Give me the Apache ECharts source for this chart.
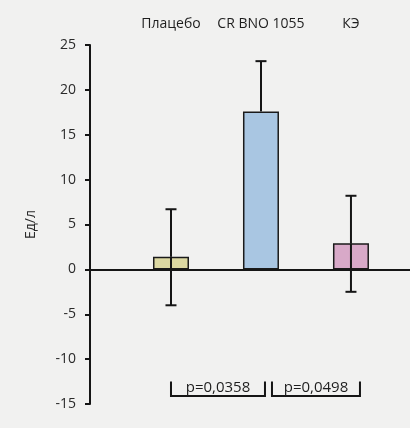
<!DOCTYPE html>
<html><head><meta charset="utf-8">
<script src="https://cdn.jsdelivr.net/npm/echarts@6/dist/echarts.min.js"></script>
<style>html,body{margin:0;padding:0;background:#f1f1f0}#c{width:410px;height:428px}</style>
</head><body><div id="c"></div>
<script>
var categories = ['Плацебо', 'CR BNO 1055', 'КЭ'];
var means = [1.4, 17.6, 2.9];
var errUp = [5.3, 5.6, 5.3];
var errDown = [5.4, 0, 5.4];
var barColors = ['#dcd8a2', '#a9c6e2', '#d8a9c8'];
var yTicks = [-15, -10, -5, 0, 5, 10, 15, 20, 25];
var yName = 'Ед/л';
var comparisons = [[0, 1, 'p=0,0358'], [1, 2, 'p=0,0498']];

var font = '"Open Sans", "Noto Sans", sans-serif';
var chart = echarts.init(document.getElementById('c'));
var bracketOffsets = [[0, 4], [11, 9]];

chart.setOption({
  backgroundColor: '#f1f1f0',
  animation: false,
  grid: {left: 90, right: 0, top: 45, bottom: 24},
  xAxis: [{
    type: 'value', min: -0.9, max: 2.656,
    axisLine: {onZero: true, lineStyle: {color: '#151515', width: 2}},
    axisTick: {show: false}, axisLabel: {show: false}, splitLine: {show: false}
  }, {
    type: 'value', min: -0.9, max: 2.656, position: 'top',
    axisLine: {show: false, onZero: false}, axisTick: {show: false}, splitLine: {show: false},
    axisLabel: {customValues: categories.map(function (c, i) { return i; }),
      formatter: function (v) { return categories[Math.round(v)]; },
      margin: 14, fontFamily: font, fontSize: 14, color: '#1e1e1e'}
  }],
  yAxis: {
    type: 'value', min: yTicks[0], max: yTicks[yTicks.length - 1], interval: 5,
    name: yName, nameLocation: 'middle', nameGap: 52,
    nameTextStyle: {fontFamily: font, fontSize: 14, color: '#2a2a2a'},
    axisLine: {show: true, onZero: false, lineStyle: {color: '#151515', width: 2}},
    axisTick: {show: true, length: 5, lineStyle: {color: '#151515', width: 2}},
    axisLabel: {margin: 14, fontFamily: font, fontSize: 14, color: '#2a2a2a'},
    splitLine: {show: false}
  },
  series: [{
    type: 'bar', barWidth: 36, z: 2,
    data: means.map(function (v, i) {
      return {value: [i, v], itemStyle: {color: barColors[i], borderColor: '#1a1a1a', borderWidth: 1.5}};
    })
  }, {
    type: 'custom', z: 5,
    data: means.map(function (v, i) { return [i, v + errUp[i], v - errDown[i], v]; }),
    renderItem: function (params, api) {
      var i = api.value(0);
      var top = api.coord([i, api.value(1)]);
      var bot = api.coord([i, api.value(2)]);
      var mid = api.coord([i, api.value(3)]);
      var cap = 5.5;
      var st = {stroke: '#151515', lineWidth: 2};
      var ch = [
        {type: 'line', shape: {x1: top[0], y1: top[1], x2: mid[0], y2: mid[1]}, style: st},
        {type: 'line', shape: {x1: top[0] - cap, y1: top[1], x2: top[0] + cap, y2: top[1]}, style: st}
      ];
      if (api.value(2) < api.value(3)) {
        ch.push({type: 'line', shape: {x1: mid[0], y1: mid[1], x2: bot[0], y2: bot[1]}, style: st});
        ch.push({type: 'line', shape: {x1: bot[0] - cap, y1: bot[1], x2: bot[0] + cap, y2: bot[1]}, style: st});
      }
      return {type: 'group', children: ch};
    }
  }, {
    type: 'custom', z: 5,
    data: comparisons,
    renderItem: function (params, api) {
      var idx = params.dataIndex;
      var off = bracketOffsets[idx];
      var a = api.coord([api.value(0), -14.1]);
      var b = api.coord([api.value(1), -14.1]);
      var t = api.coord([api.value(0), -12.5]);
      var x1 = a[0] + off[0], x2 = b[0] + off[1];
      var st = {stroke: '#151515', lineWidth: 2, fill: null};
      return {type: 'group', children: [
        {type: 'polyline', shape: {points: [[x1, t[1]], [x1, a[1]], [x2, a[1]], [x2, t[1]]]}, style: st},
        {type: 'text', x: (x1 + x2) / 2, y: (a[1] + t[1]) / 2 - 1,
         style: {text: comparisons[idx][2], fontFamily: font, fontSize: 15, fill: '#1e1e1e', align: 'center', verticalAlign: 'middle'}}
      ]};
    }
  }]
});
</script></body></html>
